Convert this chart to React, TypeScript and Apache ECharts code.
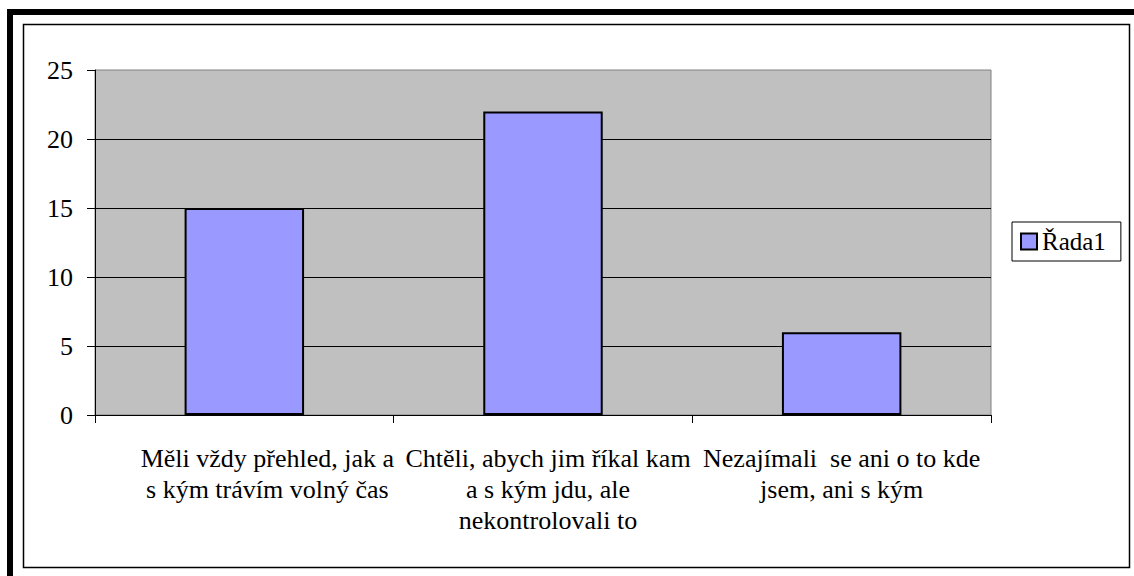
import React, { useEffect, useRef } from "react";
import * as echarts from "echarts";

const categories: string[] = [
  "Měli vždy přehled, jak a\ns kým trávím volný čas",
  "Chtěli, abych jim říkal kam\na s kým jdu, ale\nnekontrolovali to",
  "Nezajímali  se ani o to kde\njsem, ani s kým",
];
const seriesName = "Řada1";
const values: number[] = [15, 22, 6];
// horizontal label nudges (px) to mimic the source layout
const labelShift: number[] = [46, 10, 0];

const FONT = "Liberation Serif";

export default function App() {
  const ref = useRef<HTMLDivElement>(null);
  useEffect(() => {
    if (!ref.current) return;
    const chart = echarts.init(ref.current, undefined, { renderer: "svg" });
    chart.setOption({
      animation: false,
      backgroundColor: "#ffffff",
      textStyle: { fontFamily: FONT, color: "#000" },
      graphic: [
        {
          type: "rect",
          shape: { x: 10, y: 12, width: 1300, height: 800 },
          style: { fill: "none", stroke: "#000", lineWidth: 6 },
          silent: true,
        },
        {
          type: "rect",
          shape: { x: 23.5, y: 24.5, width: 1106, height: 543 },
          style: { fill: "none", stroke: "#000", lineWidth: 1.5 },
          silent: true,
        },
      ],
      grid: {
        left: 95,
        right: 143,
        top: 70,
        bottom: 161,
        show: true,
        backgroundColor: "#C0C0C0",
        borderColor: "#808080",
        borderWidth: 1,
        containLabel: false,
      },
      legend: {
        show: true,
        orient: "vertical",
        left: 1012,
        top: 222,
        borderColor: "#000",
        borderWidth: 1,
        padding: [7, 15, 7, 8],
        itemWidth: 16,
        itemHeight: 16,
        icon: "rect",
        textStyle: { fontFamily: FONT, fontSize: 25, color: "#000" },
        data: [seriesName],
      },
      xAxis: {
        type: "category",
        data: categories.map((c, i) => ({
          value: c,
          textStyle: { padding: [0, 0, 0, labelShift[i]] },
        })),
        boundaryGap: true,
        axisLine: { show: true, lineStyle: { color: "#000", width: 1 } },
        axisTick: { show: true, length: 8, lineStyle: { color: "#000" } },
        axisLabel: {
          interval: 0,
          margin: 28,
          fontFamily: FONT,
          fontSize: 26,
          lineHeight: 31,
          color: "#000",
          align: "center",
        },
        splitLine: { show: false },
      },
      yAxis: {
        type: "value",
        min: 0,
        max: 25,
        interval: 5,
        axisLine: { show: true, lineStyle: { color: "#000", width: 1 } },
        axisTick: { show: true, length: 8, lineStyle: { color: "#000" } },
        axisLabel: {
          margin: 22,
          fontFamily: FONT,
          fontSize: 26,
          color: "#000",
        },
        splitLine: {
          show: true,
          showMaxLine: false,
          lineStyle: { color: "#000", width: 1 },
        },
      },
      series: [
        {
          name: seriesName,
          type: "bar",
          data: values,
          barWidth: "40%",
          itemStyle: {
            color: "#9999FF",
            borderColor: "#000",
            borderWidth: 2,
          },
        },
      ],
    });
    return () => chart.dispose();
  }, []);
  return (
    <div
      ref={ref}
      style={{ position: "absolute", left: 0, top: 0, width: 1134, height: 576 }}
    />
  );
}
